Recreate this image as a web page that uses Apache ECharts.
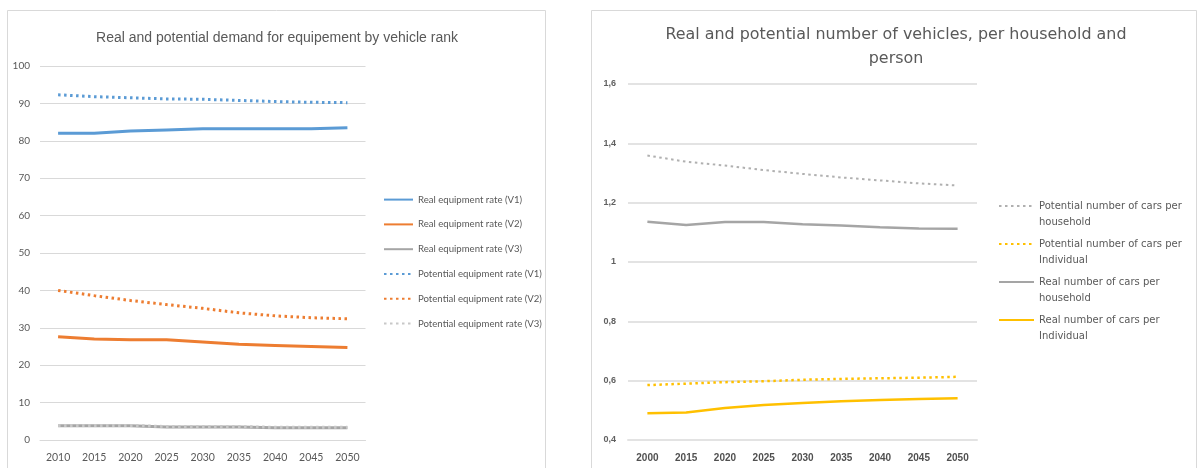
<!DOCTYPE html>
<html>
<head>
<meta charset="utf-8">
<script src="https://cdn.jsdelivr.net/npm/echarts@6/dist/echarts.min.js"></script>
<style>
html,body{margin:0;padding:0;background:#fff;}
#c{width:1198px;height:468px;}
</style>
</head>
<body>
<div id="c"></div>
<script>
// ---- Left chart data ----
const leftTitle = 'Real and potential demand for equipement by vehicle rank';
const leftYears = ['2010','2015','2020','2025','2030','2035','2040','2045','2050'];
const leftNames = ['Real equipment rate (V1)','Real equipment rate (V2)','Real equipment rate (V3)',
                   'Potential equipment rate (V1)','Potential equipment rate (V2)','Potential equipment rate (V3)'];
const realV1 = [82.0, 82.0, 82.6, 82.9, 83.2, 83.2, 83.2, 83.2, 83.5];
const realV2 = [27.6, 27.0, 26.8, 26.8, 26.2, 25.6, 25.3, 25.0, 24.7];
const realV3 = [3.8, 3.8, 3.8, 3.5, 3.5, 3.5, 3.3, 3.3, 3.3];
const potV1 = [92.3, 91.8, 91.5, 91.2, 91.1, 90.8, 90.5, 90.3, 90.2];
const potV2 = [40.0, 38.6, 37.3, 36.2, 35.2, 34.0, 33.2, 32.7, 32.4];
const potV3 = [3.9, 3.9, 3.9, 3.6, 3.6, 3.6, 3.4, 3.4, 3.4];

// ---- Right chart data ----
const rightTitle = 'Real and potential number of vehicles, per household and\nperson';
const rightYears = ['2000','2015','2020','2025','2030','2035','2040','2045','2050'];
const rightNames = ['Potential number of cars per household','Potential number of cars per individual',
                    'Real number of cars per household','Real number of cars per individual'];
const rightLegendLabels = ['Potential number of cars per\nhousehold','Potential number of cars per\nIndividual',
                           'Real number of cars per\nhousehold','Real number of cars per\nIndividual'];
const potHousehold = [1.359, 1.338, 1.325, 1.310, 1.297, 1.285, 1.275, 1.265, 1.258];
const potIndividual = [0.585, 0.590, 0.595, 0.598, 0.603, 0.606, 0.608, 0.610, 0.613];
const realHousehold = [1.136, 1.125, 1.135, 1.135, 1.127, 1.123, 1.117, 1.113, 1.112];
const realIndividual = [0.490, 0.493, 0.508, 0.518, 0.525, 0.531, 0.535, 0.538, 0.541];

const BLUE='#5B9BD5', ORANGE='#ED7D31', GRAY='#A5A5A5', LGRAY='#C8C8C8', GOLD='#FFC000';
const TXT='#595959';

function line(name, data, color, dotted, xi, width){
  return {
    name, type:'line', data, xAxisIndex:xi, yAxisIndex:xi,
    symbol:'none', smooth:false,
    lineStyle:{color, width:width, type: dotted ? [2.5,3.5] : 'solid', cap:'butt'},
    itemStyle:{color},
    emphasis:{disabled:true}
  };
}

const chart = echarts.init(document.getElementById('c'), null, {renderer:'canvas'});
const rightLabelMap = {};
rightNames.forEach((n,i)=>rightLabelMap[n]='\n'+rightLegendLabels[i]);

chart.setOption({
  animation:false,
  backgroundColor:'#ffffff',
  graphic:[
    {type:'rect', shape:{x:7.5,y:10.5,width:538,height:470}, style:{fill:'none',stroke:'#D9D9D9',lineWidth:1}},
    {type:'rect', shape:{x:591.5,y:10.5,width:605,height:470}, style:{fill:'none',stroke:'#D9D9D9',lineWidth:1}}
  ],
  title:[
    {text:leftTitle, left:272, top:26, textAlign:'center',
     textStyle:{fontFamily:'Liberation Sans', fontSize:14, fontWeight:'normal', color:TXT}},
    {text:rightTitle, left:891, top:18, textAlign:'center',
     textStyle:{fontFamily:'DejaVu Sans', fontSize:15.9, fontWeight:'normal', color:TXT, lineHeight:24}}
  ],
  legend:[
    {data:leftNames, orient:'vertical', left:383, top:194, padding:0, itemWidth:29, itemHeight:14, itemGap:13.6,
     itemStyle:{opacity:0},
     textStyle:{fontFamily:'Lato', fontSize:9.6, color:TXT}},
    {data:rightNames, orient:'vertical', left:998, top:182, padding:0, itemWidth:35, itemHeight:14, itemGap:-10.0,
     itemStyle:{opacity:0},
     formatter:(n)=>rightLabelMap[n],
     textStyle:{fontFamily:'DejaVu Sans', fontSize:10, color:TXT, lineHeight:16}}
  ],
  grid:[
    {left:40, width:325.5, top:66, height:374},
    {left:628, width:349, top:84, height:356}
  ],
  xAxis:[
    {type:'category', gridIndex:0, data:leftYears, boundaryGap:true,
     axisLine:{lineStyle:{color:'#D9D9D9'}}, axisTick:{show:false},
     axisLabel:{fontFamily:'Lato', fontSize:10.5, color:TXT, margin:12}},
    {type:'category', gridIndex:1, data:rightYears, boundaryGap:true,
     axisLine:{lineStyle:{color:'#E3E3E3', width:2}}, axisTick:{show:false},
     axisLabel:{fontFamily:'Liberation Sans', fontSize:10, fontWeight:'bold', color:'#505050', margin:13}}
  ],
  yAxis:[
    {type:'value', gridIndex:0, min:0, max:100, interval:10,
     axisLine:{show:false}, axisTick:{show:false},
     splitLine:{lineStyle:{color:'#D9D9D9', width:1}},
     axisLabel:{fontFamily:'Lato', fontSize:10, color:TXT, margin:10}},
    {type:'value', gridIndex:1, min:0.4, max:1.6, interval:0.2,
     axisLine:{show:false}, axisTick:{show:false},
     splitLine:{lineStyle:{color:'#E3E3E3', width:2}},
     axisLabel:{fontFamily:'Liberation Sans', fontSize:9, fontWeight:'bold', color:'#606060', margin:12,
       formatter:(v)=>String(Math.round(v*10)/10).replace('.', ',')}}
  ],
  series:[
    line(leftNames[0], realV1, BLUE, false, 0, 3),
    line(leftNames[1], realV2, ORANGE, false, 0, 3),
    line(leftNames[2], realV3, GRAY, false, 0, 3),
    line(leftNames[3], potV1, BLUE, true, 0, 3),
    line(leftNames[4], potV2, ORANGE, true, 0, 3),
    line(leftNames[5], potV3, LGRAY, true, 0, 3),
    line(rightNames[0], potHousehold, '#B0B0B0', true, 1, 2),
    line(rightNames[1], potIndividual, GOLD, true, 1, 2.5),
    line(rightNames[2], realHousehold, GRAY, false, 1, 2.5),
    line(rightNames[3], realIndividual, GOLD, false, 1, 2.5)
  ]
});
</script>
</body>
</html>
